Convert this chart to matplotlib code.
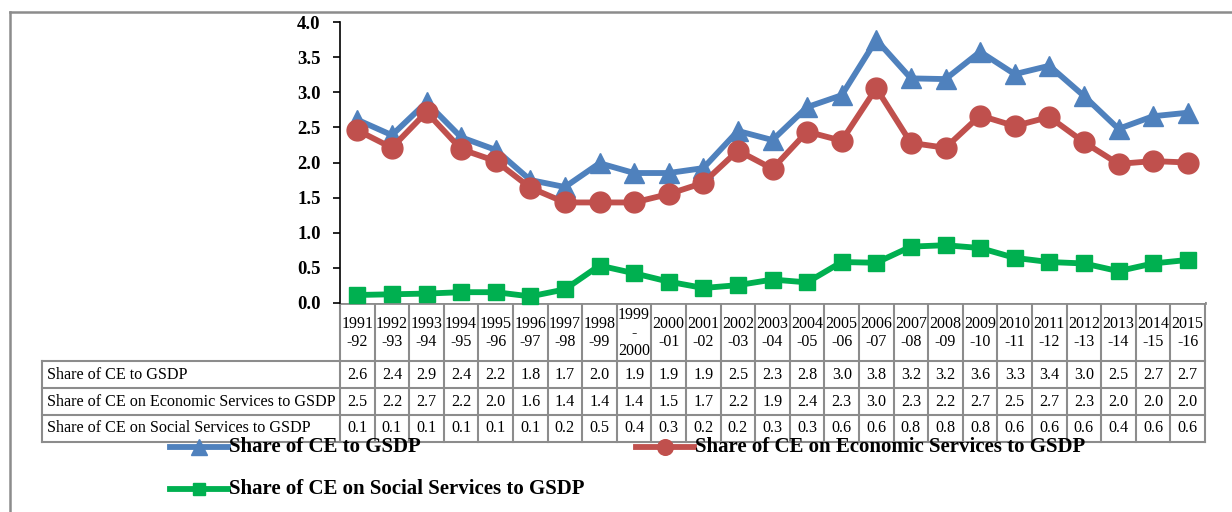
import matplotlib
matplotlib.use("Agg")
import matplotlib.pyplot as plt
from matplotlib.lines import Line2D

# ---------------- data ----------------
years = ["1991\n-92", "1992\n-93", "1993\n-94", "1994\n-95", "1995\n-96", "1996\n-97",
         "1997\n-98", "1998\n-99", "1999\n-\n2000", "2000\n-01", "2001\n-02", "2002\n-03",
         "2003\n-04", "2004\n-05", "2005\n-06", "2006\n-07", "2007\n-08", "2008\n-09",
         "2009\n-10", "2010\n-11", "2011\n-12", "2012\n-13", "2013\n-14", "2014\n-15",
         "2015\n-16"]

series_names = ["Share of CE to GSDP",
                "Share of CE on Economic Services to GSDP",
                "Share of CE on Social Services to GSDP"]

ce_total = [2.61, 2.39, 2.86, 2.36, 2.18, 1.75, 1.65, 1.99, 1.85, 1.85, 1.92, 2.45, 2.32,
            2.79, 2.96, 3.75, 3.20, 3.19, 3.58, 3.26, 3.38, 2.95, 2.48, 2.66, 2.71]
ce_economic = [2.46, 2.21, 2.72, 2.19, 2.02, 1.64, 1.43, 1.43, 1.43, 1.55, 1.71, 2.17, 1.91,
               2.44, 2.31, 3.06, 2.28, 2.21, 2.67, 2.52, 2.65, 2.29, 1.98, 2.02, 2.00]
ce_social = [0.11, 0.12, 0.13, 0.15, 0.15, 0.09, 0.19, 0.53, 0.42, 0.30, 0.21, 0.25, 0.33,
             0.29, 0.58, 0.57, 0.80, 0.82, 0.78, 0.64, 0.58, 0.56, 0.45, 0.56, 0.61]

table_total = ["2.6", "2.4", "2.9", "2.4", "2.2", "1.8", "1.7", "2.0", "1.9", "1.9", "1.9", "2.5",
               "2.3", "2.8", "3.0", "3.8", "3.2", "3.2", "3.6", "3.3", "3.4", "3.0", "2.5", "2.7", "2.7"]
table_economic = ["2.5", "2.2", "2.7", "2.2", "2.0", "1.6", "1.4", "1.4", "1.4", "1.5", "1.7", "2.2",
                  "1.9", "2.4", "2.3", "3.0", "2.3", "2.2", "2.7", "2.5", "2.7", "2.3", "2.0", "2.0", "2.0"]
table_social = ["0.1", "0.1", "0.1", "0.1", "0.1", "0.1", "0.2", "0.5", "0.4", "0.3", "0.2", "0.2",
                "0.3", "0.3", "0.6", "0.6", "0.8", "0.8", "0.8", "0.6", "0.6", "0.6", "0.4", "0.6", "0.6"]

y_ticks = [0.0, 0.5, 1.0, 1.5, 2.0, 2.5, 3.0, 3.5, 4.0]

# ---------------- styling ----------------
W, H = 1232, 512
SERIF = ["Liberation Serif", "DejaVu Serif"]
colors = ["#4F81BD", "#C0504D", "#00B050"]
markers = ["^", "o", "s"]
msizes = [15, 15, 11]
GRID = "#8c8c8c"

plt.rcParams["font.family"] = SERIF

fig = plt.figure(figsize=(W / 100, H / 100), dpi=100)

# plot area in pixel coordinates
ax_l, ax_r, ax_t, ax_b = 340, 1205, 22.3, 302.7
ax = fig.add_axes([ax_l / W, 1 - ax_b / H, (ax_r - ax_l) / W, (ax_b - ax_t) / H])

x = list(range(len(years)))
for vals, c, m, ms in zip([ce_total, ce_economic, ce_social], colors, markers, msizes):
    ax.plot(x, vals, color=c, lw=4.2, marker=m, ms=ms, mec=c, mfc=c, clip_on=False,
            solid_joinstyle="round")

ax.set_xlim(-0.5, len(years) - 0.5)
ax.set_ylim(0, 4)
ax.set_yticks(y_ticks)
ax.set_yticklabels([f"{v:.1f}" for v in y_ticks], fontsize=13.5, fontweight="bold")
ax.set_xticks([])
for s in ["top", "right", "bottom"]:
    ax.spines[s].set_visible(False)
ax.spines["left"].set_color("black")
ax.spines["left"].set_linewidth(1.2)
ax.tick_params(axis="y", direction="out", length=5, width=1.2, pad=9, colors="black")

# overlay in pixel coordinates for table / legend / frame
ov = fig.add_axes([0, 0, 1, 1], zorder=-1)
ov.set_xlim(0, W)
ov.set_ylim(H, 0)
ov.axis("off")

# outer chart frame
ov.plot([10, W], [12, 12], color=GRID, lw=1.8)
ov.plot([10, 10], [12, H], color=GRID, lw=1.8)

n = len(years)
colw = (ax_r - ax_l) / n
tab_left = 42
row_edges = [303, 361, 388.3, 415, 441.7]

# horizontal lines
ov.plot([ax_l, ax_r], [row_edges[0], row_edges[0]], color=GRID, lw=2.0)
for yy in row_edges[1:]:
    ov.plot([tab_left, ax_r], [yy, yy], color=GRID, lw=1.5)
# vertical lines
for i in range(n + 1):
    xx = ax_l + i * colw
    ov.plot([xx, xx], [row_edges[0], row_edges[-1]], color=GRID, lw=1.5)
ov.plot([tab_left, tab_left], [row_edges[1], row_edges[-1]], color=GRID, lw=1.5)

# header text
for i, lab in enumerate(years):
    ov.text(ax_l + (i + 0.5) * colw, (row_edges[0] + row_edges[1]) / 2 + 1, lab,
            ha="center", va="center", fontsize=11.5, linespacing=1.2, multialignment="center")

# rows
for r, (name, vals) in enumerate(zip(series_names, [table_total, table_economic, table_social])):
    yc = (row_edges[r + 1] + row_edges[r + 2]) / 2
    ov.text(tab_left + 5, yc, name, ha="left", va="center", fontsize=11.6)
    for i, v in enumerate(vals):
        ov.text(ax_l + (i + 0.5) * colw, yc, v, ha="center", va="center", fontsize=11.6)

# legend
leg_pos = [(170, 447), (636, 447), (170, 489)]
for (lx, ly), name, c, m, ms in zip(leg_pos, series_names, colors, markers, msizes):
    ov.add_line(Line2D([lx, lx + 58], [ly, ly], color=c, lw=4.2))
    ov.add_line(Line2D([lx + 29], [ly], color=c, marker=m, ms=ms * 0.75, mec=c, mfc=c))
    ov.text(lx + 59, ly, name, ha="left", va="center", fontsize=15, fontweight="bold")

fig.savefig("out.png", dpi=100)
